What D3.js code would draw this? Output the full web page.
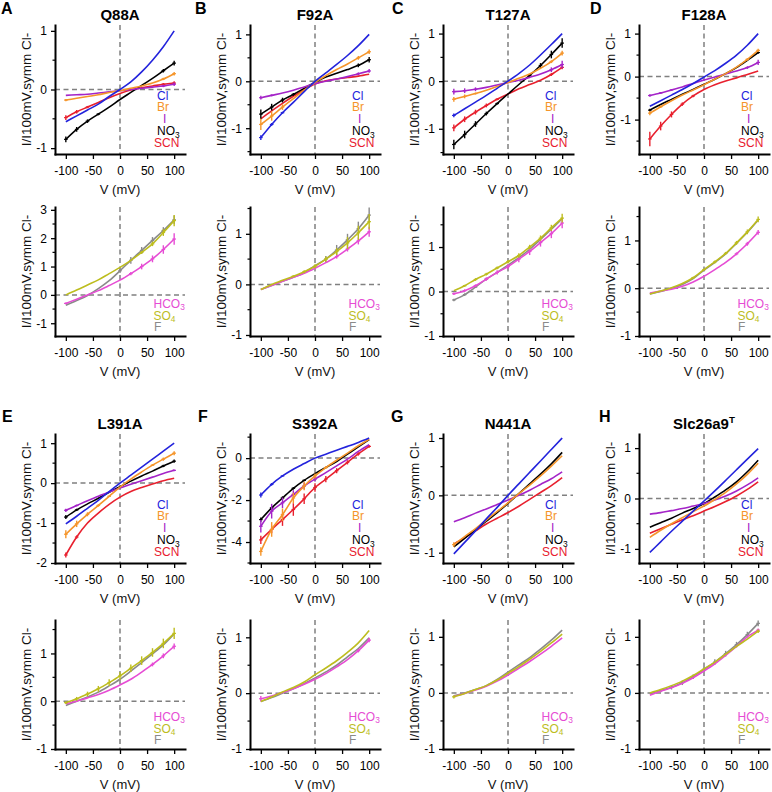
<!DOCTYPE html>
<html><head><meta charset="utf-8">
<script src="https://cdn.jsdelivr.net/npm/d3@7"></script>
<style>
body{margin:0;background:#fff}
svg{display:block}
text{font-family:"Liberation Sans",Arial,Helvetica,sans-serif}
</style>
</head><body>
<svg id="chart" width="772" height="792"></svg>
<script>
// ---------------- DATA ----------------
const voltages = [-100,-80,-60,-40,-20,0,20,40,60,80,100];
const halides = ["Cl","Br","I","NO3","SCN"];
const otherAnions = ["HCO3","SO4","F"];
const mutants = ["Q88A","F92A","T127A","F128A","L391A","S392A","N441A","Slc26a9"];
const panelLetters = ["A","B","C","D","E","F","G","H"];
const xTicks = [-100,-50,0,50,100];

const topDomains = [[-1.1,1.1],[-1.55,1.2],[-1.53,1.18],[-1.8,1.2],[-2,1.23],[-5,1.15],[-1.18,1.07],[-1.28,1.28]];
const topTicks = [[-1,0,1],[-1,0,1],[-1,0,1],[-1,0,1],[-2,-1,0,1],[-4,-2,0],[-1,0,1],[-1,0,1]];
const bottomDomains = [[-1.45,3.1],[-1.02,1.53],[-1,1.9],[-1,1.7],[-1,1.7],[-1,1.31],[-1,1.3],[-1,1.3]];
const bottomTicks = [[-1,0,1,2,3],[-1,0,1],[-1,0,1],[-1,0,1],[-1,0,1],[-1,0,1],[-1,0,1],[-1,0,1]];

// halide series: [Cl, Br, I, NO3, SCN]
const Q88A_halide = [
  [-0.55,-0.45,-0.35,-0.25,-0.12,0,0.13,0.3,0.5,0.73,1.0],
  [-0.18,-0.15,-0.12,-0.09,-0.05,-0.02,0.02,0.06,0.11,0.18,0.27],
  [-0.1,-0.09,-0.08,-0.06,-0.04,-0.02,0.0,0.02,0.04,0.06,0.09],
  [-0.85,-0.68,-0.54,-0.42,-0.3,-0.17,-0.05,0.07,0.19,0.32,0.45],
  [-0.48,-0.38,-0.3,-0.22,-0.14,-0.07,-0.01,0.03,0.06,0.09,0.11]];
const Q88A_halideErr = [
  [0,0,0,0,0,0,0,0,0,0,0],
  [0.02,0,0,0,0,0,0,0,0,0.02,0.03],
  [0,0,0,0,0,0,0,0,0,0.02,0.03],
  [0.05,0.04,0.03,0.02,0,0,0,0,0,0.03,0.04],
  [0.04,0.03,0.02,0,0,0,0,0,0,0.02,0.03]];
const Q88A_other = [
  [-0.3,-0.15,0.0,0.15,0.33,0.52,0.75,1.0,1.27,1.6,1.97],
  [0.0,0.17,0.35,0.53,0.75,0.97,1.22,1.5,1.8,2.2,2.62],
  [-0.37,-0.2,-0.02,0.22,0.5,0.85,1.22,1.57,1.92,2.27,2.65]];
const Q88A_otherErr = [
  [0.03,0,0,0,0,0,0.06,0.1,0.12,0.15,0.2],
  [0,0,0,0,0,0,0,0.05,0.08,0.12,0.2],
  [0,0,0,0,0,0.08,0.12,0.12,0.12,0.12,0.15]];

const F92A_halide = [
  [-1.2,-0.92,-0.67,-0.45,-0.22,0,0.18,0.36,0.55,0.76,1.0],
  [-0.92,-0.74,-0.55,-0.37,-0.19,-0.02,0.12,0.25,0.37,0.5,0.63],
  [-0.35,-0.3,-0.25,-0.19,-0.12,-0.05,0.0,0.05,0.1,0.16,0.22],
  [-0.7,-0.55,-0.4,-0.28,-0.15,-0.02,0.09,0.17,0.25,0.34,0.46],
  [-0.8,-0.63,-0.47,-0.32,-0.18,-0.06,0.01,0.05,0.08,0.11,0.15]];
const F92A_halideErr = [
  [0.05,0.03,0.02,0,0,0,0,0,0,0,0],
  [0.12,0.1,0.06,0,0,0,0,0,0,0.04,0.05],
  [0.04,0.02,0,0,0,0,0,0,0,0.03,0.04],
  [0.1,0.07,0.05,0.03,0,0,0,0,0,0.04,0.06],
  [0,0,0,0,0,0,0,0,0,0,0]];
const F92A_other = [
  [-0.1,-0.02,0.06,0.14,0.22,0.32,0.43,0.55,0.7,0.86,1.04],
  [-0.1,0.0,0.08,0.16,0.25,0.36,0.5,0.65,0.82,1.02,1.24],
  [-0.1,-0.02,0.06,0.14,0.23,0.37,0.5,0.68,0.88,1.1,1.37]];
const F92A_otherErr = [
  [0,0,0,0,0,0,0,0.04,0.05,0.07,0.1],
  [0,0,0,0.02,0.03,0.04,0.05,0.07,0.12,0.14,0.15],
  [0,0,0,0,0,0,0.06,0.1,0.12,0.14,0.15]];

const T127A_halide = [
  [-0.72,-0.58,-0.44,-0.3,-0.15,0.0,0.16,0.34,0.55,0.77,1.0],
  [-0.38,-0.32,-0.26,-0.19,-0.11,-0.03,0.06,0.15,0.27,0.41,0.59],
  [-0.22,-0.2,-0.17,-0.13,-0.08,-0.03,0.02,0.08,0.15,0.24,0.35],
  [-1.33,-1.12,-0.9,-0.68,-0.47,-0.27,-0.07,0.12,0.33,0.56,0.8],
  [-0.98,-0.8,-0.65,-0.51,-0.38,-0.27,-0.16,-0.07,0.02,0.14,0.29]];
const T127A_halideErr = [
  [0.04,0,0,0,0,0,0,0,0,0,0],
  [0.05,0.04,0.02,0,0,0,0,0,0,0.03,0.05],
  [0.06,0.05,0.04,0,0,0,0,0,0,0.05,0.08],
  [0.1,0.08,0.06,0.04,0.02,0,0,0.03,0.05,0.08,0.1],
  [0.07,0.06,0.05,0.04,0.02,0,0,0,0,0.03,0.04]];
const T127A_other = [
  [-0.05,0.02,0.13,0.28,0.43,0.56,0.73,0.9,1.1,1.3,1.54],
  [0.02,0.13,0.27,0.39,0.53,0.67,0.81,1.0,1.2,1.43,1.65],
  [-0.19,-0.07,0.1,0.28,0.43,0.59,0.76,0.95,1.17,1.4,1.64]];
const T127A_otherErr = [
  [0.03,0.03,0.03,0.04,0.05,0.06,0.07,0.08,0.09,0.1,0.12],
  [0,0.02,0.03,0.03,0.03,0.04,0.05,0.05,0.06,0.07,0.1],
  [0.03,0.03,0.02,0.02,0,0,0,0,0,0,0]];

const F128A_halide = [
  [-0.69,-0.56,-0.43,-0.3,-0.16,-0.01,0.14,0.31,0.5,0.73,1.0],
  [-0.85,-0.7,-0.56,-0.43,-0.31,-0.19,-0.06,0.07,0.22,0.4,0.61],
  [-0.44,-0.38,-0.31,-0.24,-0.16,-0.08,-0.01,0.06,0.13,0.21,0.33],
  [-0.78,-0.65,-0.53,-0.41,-0.3,-0.18,-0.06,0.07,0.21,0.38,0.56],
  [-1.45,-1.15,-0.88,-0.64,-0.45,-0.3,-0.19,-0.1,-0.03,0.05,0.13]];
const F128A_halideErr = [
  [0,0,0,0,0,0,0,0,0,0,0],
  [0.05,0.03,0,0,0,0,0,0,0,0.03,0.04],
  [0.03,0.02,0.02,0,0,0,0,0,0,0.03,0.06],
  [0.03,0,0,0,0,0,0,0,0,0,0.03],
  [0.17,0.1,0.07,0.04,0.03,0,0,0,0,0,0]];
const F128A_other = [
  [-0.1,-0.06,-0.02,0.04,0.13,0.25,0.39,0.54,0.72,0.93,1.17],
  [-0.12,-0.06,0.01,0.1,0.22,0.39,0.55,0.73,0.95,1.18,1.44],
  [-0.12,-0.07,0.0,0.08,0.2,0.38,0.54,0.72,0.94,1.17,1.43]];
const F128A_otherErr = [
  [0,0,0,0,0,0,0,0,0.03,0.04,0.05],
  [0,0,0,0,0.02,0.02,0.03,0.03,0.04,0.05,0.06],
  [0,0,0,0,0,0,0,0,0,0,0]];

const L391A_halide = [
  [-1.02,-0.83,-0.63,-0.43,-0.21,0.0,0.2,0.4,0.6,0.8,1.0],
  [-1.28,-1.02,-0.78,-0.56,-0.33,-0.1,0.1,0.28,0.45,0.6,0.75],
  [-0.68,-0.56,-0.44,-0.33,-0.22,-0.12,-0.03,0.06,0.15,0.24,0.32],
  [-0.85,-0.67,-0.52,-0.38,-0.23,-0.09,0.05,0.18,0.3,0.43,0.55],
  [-1.8,-1.35,-1.0,-0.75,-0.53,-0.35,-0.21,-0.11,-0.02,0.06,0.12]];
const L391A_halideErr = [
  [0,0,0,0,0,0,0,0,0,0,0],
  [0.1,0.08,0.05,0.03,0.02,0,0,0,0.02,0.04,0.05],
  [0.04,0.02,0,0,0,0,0,0,0,0,0.02],
  [0.05,0.03,0,0,0,0,0,0,0,0.03,0.04],
  [0.06,0.04,0,0,0,0,0,0,0,0,0]];
const L391A_other = [
  [-0.05,0.0,0.07,0.14,0.23,0.34,0.46,0.61,0.77,0.95,1.15],
  [-0.03,0.05,0.15,0.26,0.39,0.53,0.69,0.85,1.02,1.21,1.42],
  [-0.09,0.0,0.09,0.19,0.32,0.46,0.63,0.81,0.99,1.18,1.41]];
const L391A_otherErr = [
  [0,0,0,0,0,0,0,0,0.04,0.05,0.06],
  [0.03,0.04,0.05,0.06,0.07,0.08,0.08,0.09,0.09,0.1,0.12],
  [0,0,0,0,0,0,0,0,0,0,0]];

const S392A_halide = [
  [-1.76,-1.25,-0.85,-0.53,-0.26,0.0,0.19,0.38,0.56,0.75,0.96],
  [-4.45,-3.4,-2.7,-1.9,-1.33,-0.85,-0.45,-0.1,0.24,0.59,0.9],
  [-3.25,-2.53,-2.13,-1.73,-1.33,-1.0,-0.69,-0.37,-0.05,0.32,0.64],
  [-2.93,-2.37,-1.9,-1.44,-1.06,-0.74,-0.45,-0.16,0.19,0.54,0.88],
  [-3.9,-3.4,-2.93,-2.45,-1.94,-1.4,-1.0,-0.6,-0.2,0.2,0.56]];
const S392A_halideErr = [
  [0.12,0.06,0.03,0,0,0,0,0,0,0,0],
  [0.2,0.35,0.3,0.25,0.2,0.12,0.06,0,0,0,0],
  [0.3,0.35,0.25,0.2,0.15,0.1,0,0,0,0,0],
  [0.1,0.1,0.08,0.06,0.04,0,0,0,0,0,0],
  [0.2,0.18,0.3,0.3,0.25,0.2,0.15,0.12,0.1,0.08,0.06]];
const S392A_other = [
  [-0.1,-0.05,0.01,0.08,0.16,0.25,0.35,0.47,0.6,0.76,0.95],
  [-0.15,-0.07,0.02,0.1,0.2,0.33,0.45,0.58,0.73,0.9,1.12],
  [-0.15,-0.08,0.0,0.08,0.17,0.27,0.38,0.5,0.65,0.8,0.99]];
const S392A_otherErr = [
  [0.05,0,0,0,0,0,0,0,0,0.03,0.04],
  [0,0,0,0,0,0,0,0,0,0,0],
  [0,0,0,0,0,0,0,0,0,0,0]];

const N441A_halide = [
  [-1.02,-0.82,-0.62,-0.41,-0.21,0.0,0.2,0.4,0.6,0.8,1.0],
  [-0.86,-0.72,-0.58,-0.43,-0.28,-0.13,0.03,0.18,0.34,0.51,0.69],
  [-0.46,-0.39,-0.31,-0.24,-0.16,-0.08,0.0,0.09,0.19,0.29,0.41],
  [-0.9,-0.75,-0.6,-0.45,-0.3,-0.14,0.03,0.2,0.37,0.55,0.75],
  [-0.85,-0.74,-0.62,-0.5,-0.4,-0.3,-0.19,-0.07,0.05,0.17,0.31]];
const N441A_halideErr = [
  [0,0,0,0,0,0,0,0,0,0,0],
  [0.04,0,0,0,0,0,0,0,0,0,0],
  [0,0,0,0,0,0,0,0,0,0,0],
  [0,0,0,0,0,0,0,0,0,0,0],
  [0,0,0,0,0,0,0,0,0,0,0]];
const N441A_other = [
  [-0.06,-0.01,0.05,0.12,0.21,0.32,0.44,0.56,0.69,0.83,0.98],
  [-0.07,-0.01,0.06,0.13,0.23,0.35,0.47,0.6,0.74,0.89,1.05],
  [-0.05,0.0,0.06,0.13,0.24,0.37,0.5,0.63,0.78,0.94,1.12]];
const N441A_otherErr = [
  [0,0,0,0,0,0,0,0,0,0,0],
  [0.03,0,0,0,0,0,0,0,0,0,0],
  [0,0,0,0,0,0,0,0,0,0,0]];

const Slc26a9_halide = [
  [-1.07,-0.86,-0.65,-0.45,-0.25,-0.05,0.15,0.36,0.57,0.78,0.99],
  [-0.77,-0.63,-0.5,-0.38,-0.26,-0.15,-0.02,0.12,0.29,0.48,0.7],
  [-0.31,-0.28,-0.24,-0.2,-0.15,-0.1,-0.03,0.05,0.15,0.27,0.41],
  [-0.57,-0.48,-0.39,-0.29,-0.2,-0.1,0.03,0.17,0.33,0.53,0.76],
  [-0.69,-0.6,-0.51,-0.42,-0.34,-0.25,-0.16,-0.06,0.05,0.18,0.33]];
const Slc26a9_halideErr = [
  [0,0,0,0,0,0,0,0,0,0,0],
  [0,0,0,0,0,0,0,0,0,0,0],
  [0,0,0,0,0,0,0,0,0,0,0],
  [0,0,0,0,0,0,0,0,0,0,0],
  [0,0,0,0,0,0,0,0,0,0,0]];
const Slc26a9_other = [
  [-0.04,0.03,0.09,0.17,0.27,0.39,0.52,0.67,0.83,1.0,1.12],
  [0.0,0.06,0.13,0.21,0.31,0.43,0.55,0.69,0.83,0.96,1.1],
  [-0.02,0.04,0.1,0.18,0.29,0.42,0.55,0.7,0.86,1.04,1.24]];
const Slc26a9_otherErr = [
  [0,0,0,0,0,0,0,0,0,0,0.03],
  [0,0,0,0,0,0,0,0,0,0,0.03],
  [0,0.03,0.04,0.04,0.04,0.04,0.05,0.05,0.05,0.05,0.05]];

const halideData = [Q88A_halide,F92A_halide,T127A_halide,F128A_halide,L391A_halide,S392A_halide,N441A_halide,Slc26a9_halide];
const halideErrs = [Q88A_halideErr,F92A_halideErr,T127A_halideErr,F128A_halideErr,L391A_halideErr,S392A_halideErr,N441A_halideErr,Slc26a9_halideErr];
const otherData = [Q88A_other,F92A_other,T127A_other,F128A_other,L391A_other,S392A_other,N441A_other,Slc26a9_other];
const otherErrs = [Q88A_otherErr,F92A_otherErr,T127A_otherErr,F128A_otherErr,L391A_otherErr,S392A_otherErr,N441A_otherErr,Slc26a9_otherErr];

// ---------------- STYLE / LAYOUT ----------------
const colors = {Cl:"#2323dc",Br:"#f5952a",I:"#a424c8",NO3:"#000000",SCN:"#e8202e",
                HCO3:"#e64cd4",SO4:"#bdbd1e",F:"#8a8a8a"};
const colLeft = [55,250,443,639];
const groupTops = [[25,207],[434,620]];
const plotW = 130, plotH = 129;
const letterX = [1,195,392,590,2,198,391,599];
const letterY = [13.5,13.5,13.5,13.5,422,422,422,422];
const halideLegendX = {Cl:102,Br:102,I:108,NO3:102,SCN:99};
const halideLegendY = [74.5,86.4,98.3,110.2,122.1];
const otherLegendX = {HCO3:98.5,SO4:98.5,F:99};
const otherLegendY = [100.5,112.5,124];

const svg = d3.select("#chart");

function addLabel(sel, name){
  const m = name.match(/^([A-Za-z]+?)(\d)$/);
  if(m){
    sel.text(m[1]);
    sel.append("tspan").attr("font-size","70%").attr("dy",2.5).text(m[2]);
  } else sel.text(name);
}

function drawPanel(left, top, domain, ticks, names, data, errs, legendX, legendY, order){
  const g = svg.append("g");
  const x = d3.scaleLinear().domain([-120,120]).range([left, left+plotW]);
  const y = d3.scaleLinear().domain(domain).range([top+plotH, top]);
  // dashed zero lines
  g.append("line").attr("x1",left).attr("x2",left+plotW).attr("y1",y(0)).attr("y2",y(0))
    .attr("stroke","#808080").attr("stroke-width",1.5).attr("stroke-dasharray","5,3.5");
  g.append("line").attr("x1",x(0)).attr("x2",x(0)).attr("y1",top).attr("y2",top+plotH)
    .attr("stroke","#808080").attr("stroke-width",1.5).attr("stroke-dasharray","5,3.5");
  const line = d3.line().x((d,i)=>x(voltages[i])).y(d=>y(d)).curve(d3.curveMonotoneX);
  order.forEach(k=>{
    const c = colors[names[k]];
    g.append("path").attr("d",line(data[k])).attr("fill","none").attr("stroke",c).attr("stroke-width",1.6);
    data[k].forEach((v,i)=>{
      const e = errs[k][i];
      if(e>0){
        g.append("line").attr("x1",x(voltages[i])).attr("x2",x(voltages[i]))
          .attr("y1",y(v-e)).attr("y2",y(v+e)).attr("stroke",c).attr("stroke-width",1.4);
        g.append("line").attr("x1",x(voltages[i])-1.8).attr("x2",x(voltages[i])+1.8)
          .attr("y1",y(v)).attr("y2",y(v)).attr("stroke",c).attr("stroke-width",1.2);
      }
    });
  });
  // axes
  const ya = d3.axisLeft(y).tickValues(ticks).tickSize(4).tickPadding(4).tickSizeOuter(0).tickFormat(d=>String(d));
  const yg = g.append("g").attr("transform",`translate(${left},0)`).call(ya);
  const xa = d3.axisBottom(x).tickValues(xTicks).tickSize(5).tickPadding(7).tickSizeOuter(0).tickFormat(d=>String(d));
  const xg = g.append("g").attr("transform",`translate(0,${top+plotH})`).call(xa);
  [yg,xg].forEach(a=>{
    a.select(".domain").attr("stroke","#000").attr("stroke-width",2).attr("stroke-linecap","square");
    a.selectAll(".tick line").attr("stroke","#000").attr("stroke-width",1.3);
    a.selectAll(".tick text").attr("font-size",12).attr("fill","#000")
      .attr("font-family",'"Liberation Sans",Arial,sans-serif');
  });
  // minor y ticks at half steps
  const step = (ticks[1]-ticks[0])/2;
  const minors = [];
  for(let v=ticks[0]-step; v>=domain[0]-1e-9; v-=2*step) minors.push(v);
  for(let v=ticks[0]+step; v<=domain[1]+1e-9; v+=2*step) minors.push(v);
  minors.forEach(v=>{
    g.append("line").attr("x1",left-2.5).attr("x2",left).attr("y1",y(v)).attr("y2",y(v))
      .attr("stroke","#000").attr("stroke-width",1.2);
  });
  // axis labels
  g.append("text").attr("transform",`translate(${left-24},${top+plotH/2}) rotate(-90)`)
    .attr("text-anchor","middle").attr("font-size",13.5).attr("fill","#111").text("I/I100mV,symm Cl-");
  g.append("text").attr("x",left+plotW/2).attr("y",top+plotH+40).attr("text-anchor","middle")
    .attr("font-size",13).attr("fill","#111").text("V (mV)");
  // legend
  names.forEach((n,k)=>{
    const t = g.append("text").attr("x",left+legendX[n]).attr("y",top+legendY[k])
      .attr("font-size",12).attr("fill",colors[n]);
    addLabel(t,n);
  });
}

mutants.forEach((m,p)=>{
  const row = Math.floor(p/4), col = p%4;
  const left = colLeft[col];
  const [tTop, bTop] = groupTops[row];
  svg.append("text").attr("x",letterX[p]).attr("y",letterY[p]).attr("font-size",16)
    .attr("font-weight","bold").text(panelLetters[p]);
  const title = svg.append("text").attr("x",left+plotW/2).attr("y",tTop-5)
    .attr("text-anchor","middle").attr("font-size",15).attr("font-weight","bold");
  if(m==="Slc26a9"){
    title.text(m);
    title.append("tspan").attr("font-size","65%").attr("dy",-6).text("T");
  } else title.text(m);
  drawPanel(left, tTop, topDomains[p], topTicks[p], halides, halideData[p], halideErrs[p],
            halideLegendX, halideLegendY, [4,3,2,1,0]);
  drawPanel(left, bTop, bottomDomains[p], bottomTicks[p], otherAnions, otherData[p], otherErrs[p],
            otherLegendX, otherLegendY, [2,0,1]);
});
</script>
</body></html>
